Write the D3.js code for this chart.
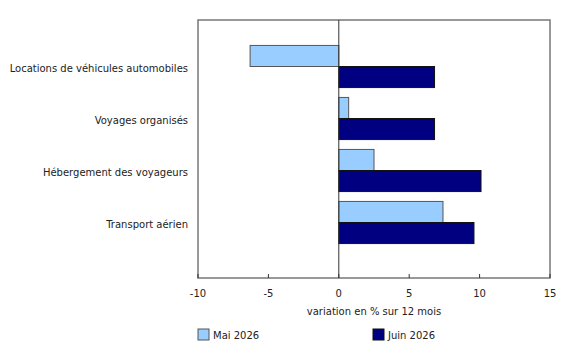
<!DOCTYPE html>
<html><head><meta charset="utf-8">
<script src="https://cdn.jsdelivr.net/npm/d3@7"></script>
<style>body{margin:0;background:#fff;} text{font-family:Verdana,"DejaVu Sans",sans-serif;}</style>
</head><body>
<svg id="c" width="580" height="345"></svg>
<script>
const categories = ["Locations de véhicules automobiles","Voyages organisés","Hébergement des voyageurs","Transport aérien"];
const seriesNames = ["Mai 2026","Juin 2026"];
const mai = [-6.3, 0.7, 2.5, 7.4];
const juin = [6.8, 6.8, 10.1, 9.6];
const xTicks = [-10,-5,0,5,10,15];
const colors = ["#99ccff","#000080"];
const strokes = ["#555555","#111111"];

const svg = d3.select("#c");
const pLeft=198, pRight=550, pTop=20, pBottom=278;
const fs = 10;
const x = d3.scaleLinear().domain([-10,15]).range([pLeft,pRight]);
const y = d3.scaleBand().domain(categories).range([40.5,248.5]).paddingInner(0.19).paddingOuter(0.095);
const ys = d3.scaleBand().domain(seriesNames).range([0,y.bandwidth()]);

const data = categories.map((c,i)=>({cat:c, vals:[mai[i],juin[i]]}));

// frame
svg.append("rect").attr("x",pLeft).attr("y",pTop).attr("width",pRight-pLeft).attr("height",pBottom-pTop)
  .attr("fill","none").attr("stroke","#777").attr("stroke-width",1.5);

// bars
data.forEach(d=>{
  d.vals.forEach((v,j)=>{
    svg.append("rect")
      .attr("x",x(Math.min(0,v)))
      .attr("y",y(d.cat)+ys(seriesNames[j]))
      .attr("width",Math.abs(x(v)-x(0)))
      .attr("height",ys.bandwidth())
      .attr("fill",colors[j]).attr("stroke",strokes[j]).attr("stroke-width",1);
  });
});

// zero line
svg.append("line").attr("x1",x(0)).attr("x2",x(0)).attr("y1",pTop).attr("y2",pBottom)
  .attr("stroke","#333").attr("stroke-width",1);

// x axis ticks & labels
const ax = svg.append("g");
xTicks.forEach(t=>{
  ax.append("line").attr("x1",x(t)).attr("x2",x(t)).attr("y1",pBottom-4).attr("y2",pBottom)
    .attr("stroke","#333").attr("stroke-width",1);
  ax.append("text").attr("x",x(t)).attr("y",297).attr("text-anchor","middle")
    .attr("font-size",fs).attr("fill","#222").text(t);
});
svg.append("text").attr("x",x(2.5)).attr("y",315).attr("text-anchor","middle")
  .attr("font-size",fs).attr("fill","#222").text("variation en % sur 12 mois");

// category labels
categories.forEach(c=>{
  svg.append("text").attr("x",188).attr("y",y(c)+y.bandwidth()/2+5).attr("text-anchor","end")
    .attr("font-size",fs).attr("fill","#222").text(c);
});

// legend
const legX=[198,373];
seriesNames.forEach((s,j)=>{
  svg.append("rect").attr("x",legX[j]).attr("y",329).attr("width",11).attr("height",11)
    .attr("fill",colors[j]).attr("stroke",strokes[j]).attr("stroke-width",1);
  svg.append("text").attr("x",legX[j]+15).attr("y",339).attr("font-size",fs).attr("fill","#222").text(s);
});
</script>
</body></html>
